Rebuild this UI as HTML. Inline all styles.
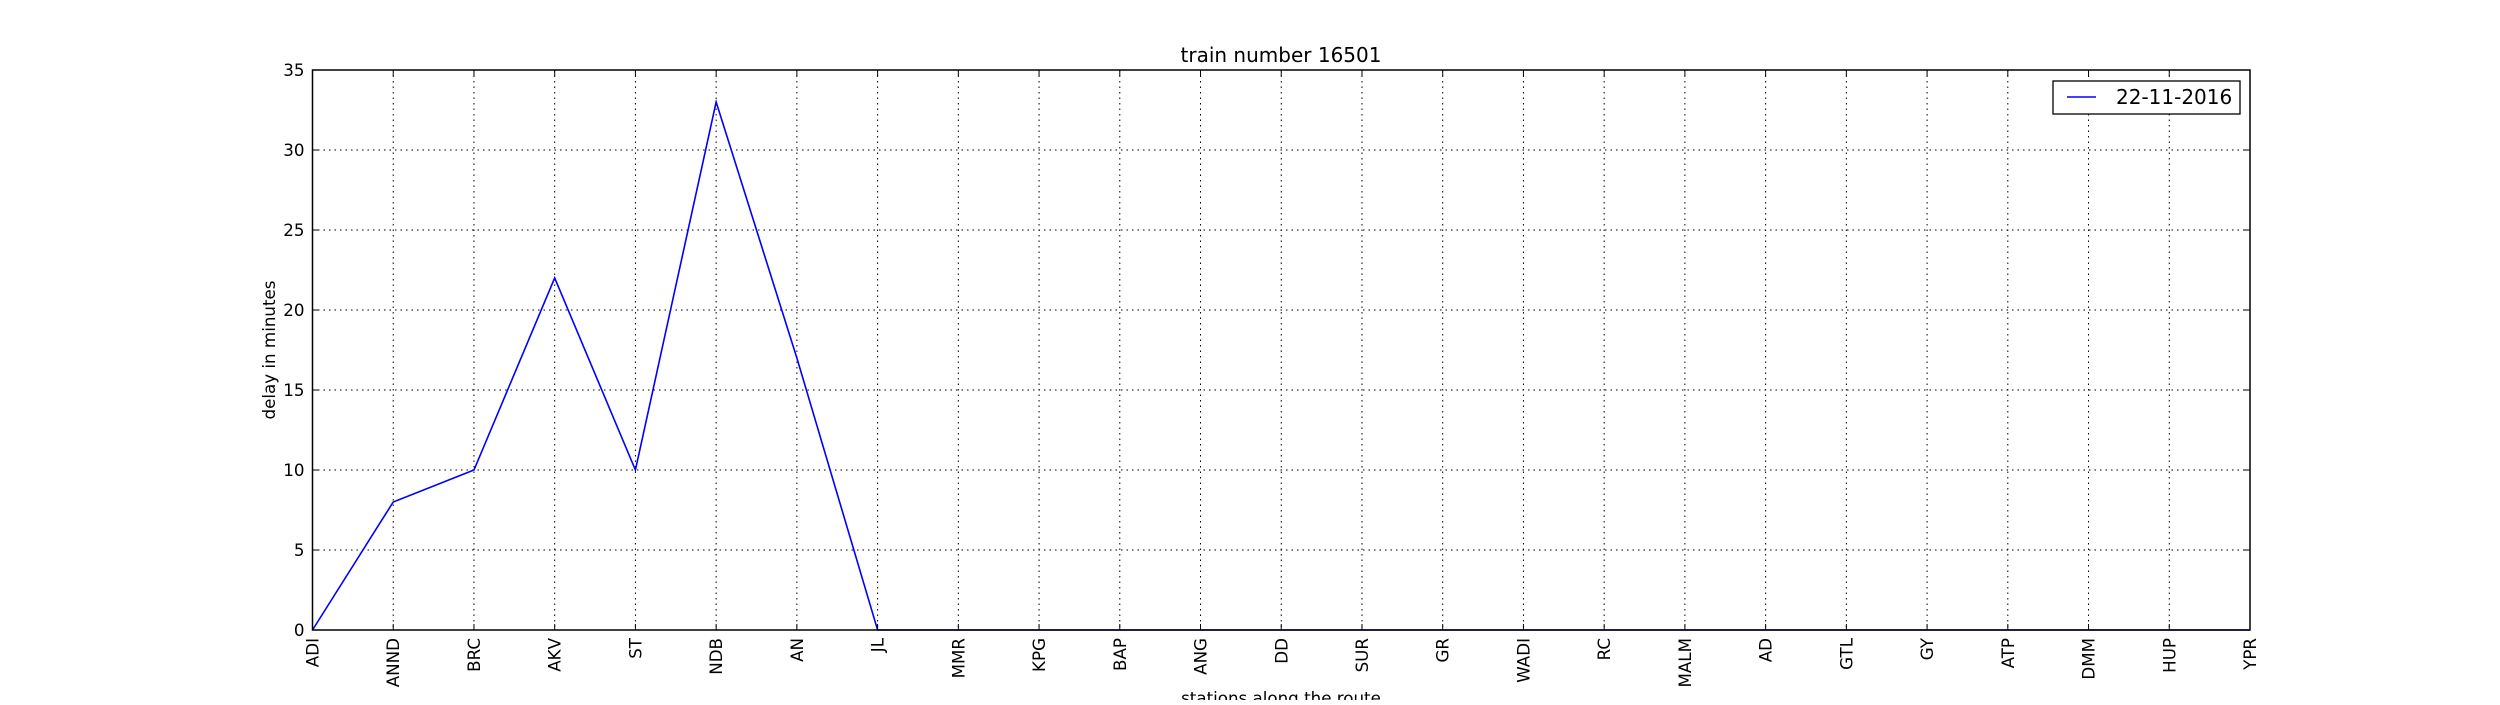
<!DOCTYPE html>
<html><head><meta charset="utf-8"><style>
html,body{margin:0;padding:0;background:#fff;}
svg text{font-family:"DejaVu Sans","Liberation Sans",sans-serif;fill:#000;}
</style></head><body>
<svg id="chart" width="2500" height="700" xmlns="http://www.w3.org/2000/svg">
<rect width="2500" height="700" fill="#fff"/>
<g id="grid"></g>
<polyline id="series" fill="none" stroke="#0000ff" stroke-width="1.6"/>
<rect x="312.5" y="70" width="1937.5" height="560" fill="none" stroke="#000" stroke-width="1.5"/>
<g id="ticks"></g>
<text x="1281" y="62" font-size="20" text-anchor="middle">train number 16501</text>
<text transform="translate(275,350) rotate(-90)" font-size="16.7" text-anchor="middle">delay in minutes</text>
<text x="1281" y="704" font-size="16.7" text-anchor="middle">stations along the route</text>
<g>
<rect x="2053" y="81" width="187" height="33" fill="#fff" stroke="#000" stroke-width="1.3"/>
<line x1="2067" y1="97" x2="2096" y2="97" stroke="#0000ff" stroke-width="1.6"/>
<text x="2116" y="104" font-size="20">22-11-2016</text>
</g>
</svg>
<script>
const stations = ["ADI","ANND","BRC","AKV","ST","NDB","AN","JL","MMR","KPG","BAP","ANG","DD","SUR","GR","WADI","RC","MALM","AD","GTL","GY","ATP","DMM","HUP","YPR"];
const delays = [0,8,10,22,10,33,17,0,0,0,0,0,0,0,0,0,0,0,0,0,0,0,0,0,0];
const yTicks = [0,5,10,15,20,25,30,35];
const L=312.5,R=2250,T=70,B=630,yMax=35;
const NS="http://www.w3.org/2000/svg";
function xs(i){return L+(R-L)*i/(stations.length-1);}
function ys(v){return B-(B-T)*v/yMax;}
const grid=document.getElementById('grid'),ticks=document.getElementById('ticks');
function mk(tag,attrs,parent){const e=document.createElementNS(NS,tag);for(const k in attrs)e.setAttribute(k,attrs[k]);parent.appendChild(e);return e;}
yTicks.forEach(v=>{
  const y=ys(v);
  const g=mk('line',{x1:L,x2:R,y1:y,y2:y,stroke:'#000','stroke-width':1,'stroke-dasharray':'1.5,4'},grid);
  
  
  mk('line',{x1:L,x2:L+6,y1:y,y2:y,stroke:'#000'},ticks);
  mk('line',{x1:R-6,x2:R,y1:y,y2:y,stroke:'#000'},ticks);
  const t=mk('text',{x:L-8,y:y+6,'font-size':16.7,'text-anchor':'end'},ticks);
  t.textContent=v;
  
  
});
stations.forEach((s,i)=>{
  const x=xs(i);
  const g=mk('line',{x1:x,x2:x,y1:T,y2:B,stroke:'#000','stroke-width':1,'stroke-dasharray':'1.5,4'},grid);
  
  
  mk('line',{x1:x,x2:x,y1:B-6,y2:B,stroke:'#000'},ticks);
  mk('line',{x1:x,x2:x,y1:T,y2:T+6,stroke:'#000'},ticks);
  const t=mk('text',{transform:`translate(${x+6},${B+8}) rotate(-90)`,'font-size':16.7,'text-anchor':'end'},ticks);
  t.textContent=s;
  
  
});
document.getElementById('series').setAttribute('points',delays.map((v,i)=>xs(i)+','+ys(v)).join(' '));
</script>
</body></html>
